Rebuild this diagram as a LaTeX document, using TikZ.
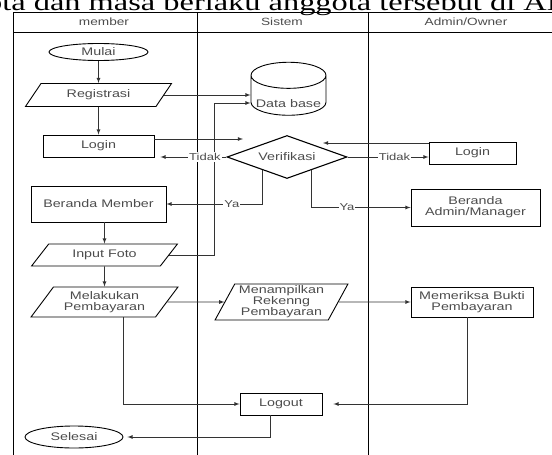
\documentclass[tikz,border=0pt]{standalone}
\usepackage{xcolor}
\usepackage{fontspec}
\setmainfont{Liberation Serif}
\newfontfamily\flowfont[FakeStretch=1.3]{Liberation Sans}
\newfontfamily\pagefont[FakeStretch=1.35]{Liberation Serif}
\usepackage{tikz}
\usetikzlibrary{calc}
\usetikzlibrary{arrows}
\usetikzlibrary{arrows.meta}
\usetikzlibrary{shapes}
\usetikzlibrary{shapes.geometric}
\tikzset{>=latex}
\definecolor{teks}{gray}{0.3}
\definecolor{garis}{gray}{0.2}
\tikzstyle{proses} = [rectangle, draw=black, line width=0.9pt, text=teks, align=center, inner sep=0, font=\flowfont\fontsize{11}{11}\selectfont]
\tikzstyle{data} = [trapezium, trapezium stretches=true, trapezium left angle=50, trapezium right angle=130, draw=black, line width=0.9pt, text=teks, align=center, inner sep=0, font=\flowfont\fontsize{11}{11}\selectfont]
\tikzstyle{terminal} = [ellipse, draw=black, line width=0.9pt, text=teks, inner sep=0, font=\flowfont\fontsize{11}{11}\selectfont]
\tikzstyle{keputusan} = [diamond, aspect=2.8, draw=black, line width=1.1pt, text=teks, inner sep=0, font=\flowfont\fontsize{11}{11}\selectfont]
\tikzstyle{basisdata} = [cylinder, shape border rotate=90, aspect=0.4, draw=black, line width=0.9pt, text=teks, inner sep=0, font=\flowfont\fontsize{11}{11}\selectfont]
\tikzstyle{alur} = [-latex, draw=garis, line width=0.8pt]
\tikzstyle{ket} = [fill=white, inner sep=1, text=teks, font=\flowfont\fontsize{10}{10}\selectfont]
\tikzstyle{lajur} = [draw=black, line width=1pt]

\begin{document}
\begin{tikzpicture}[x=1pt, y=-1pt]
\useasboundingbox (0,0) rectangle (552,455);
\node [anchor=base west, inner sep=0, font=\pagefont\fontsize{24}{24}\selectfont] (judul) at (-14, 10) {ota dan masa berlaku anggota tersebut di AL};
% lajur
\draw [lajur] (13, 455) -- (13, 12) -- (552, 12);
\draw [lajur] (13, 32) -- (552, 32);
\draw [lajur] (197, 12) -- (197, 455);
\draw [lajur] (368, 12) -- (368, 455);
\node [text=teks, font=\flowfont\fontsize{10.5}{11}\selectfont] (hMember) at (104, 22) {member};
\node [text=teks, font=\flowfont\fontsize{10.5}{11}\selectfont] (hSistem) at (282, 22) {Sistem};
\node [text=teks, font=\flowfont\fontsize{10.5}{11}\selectfont] (hAdmin) at (466, 22) {Admin/Owner};
% member
\node [terminal, minimum width=99, minimum height=17] (mulai) at (98.5, 52) {Mulai};
\node [data, minimum width=147, minimum height=23] (registrasi) at (98.5, 95) {Registrasi};
\node [proses, minimum width=111, minimum height=22] (login) at (98.5, 146) {Login};
\node [proses, minimum width=135, minimum height=36] (berandaM) at (98.5, 204) {Beranda Member};
\node [data, trapezium left angle=45, trapezium right angle=135, minimum width=147, minimum height=22] (foto) at (104.5, 255) {Input Foto};
\node [data, minimum width=147, minimum height=30] (bayar) at (104.5, 302) {Melakukan\\Pembayaran};
\node [terminal, minimum width=98, minimum height=22] (selesai) at (74, 437) {Selesai};
% sistem
\node [basisdata, minimum width=75, minimum height=53] (db) at (288.5, 95.5) {\raisebox{-12pt}[0pt][0pt]{Data base}};
\node [keputusan, minimum width=120, minimum height=43] (verif) at (287, 157) {Verifikasi};
\node [data, trapezium left angle=61, trapezium right angle=119, minimum width=133, minimum height=36] (rekening) at (281.5, 302) {Menampilkan\\Rekenng\\Pembayaran};
\node [proses, minimum width=82, minimum height=22] (logout) at (281, 404) {Logout};
% admin
\node [proses, minimum width=87, minimum height=22] (loginA) at (472.5, 153) {Login};
\node [proses, minimum width=129, minimum height=37] (berandaA) at (475.5, 207.5) {Beranda\\Admin/Manager};
\node [proses, minimum width=122, minimum height=30] (periksa) at (472, 302) {Memeriksa Bukti\\Pembayaran};
% titik bantu
\coordinate (tekukFoto) at (214, 103);
\coordinate (keVerif) at (243, 139);
\coordinate (dariAdmin) at (323, 143);
\coordinate (turunPeriksa) at (467, 404);
\coordinate (turunBayar) at (123, 404);
\coordinate (turunLogout) at (270, 437);
% alur
\draw [alur] (mulai) to (registrasi);
\draw [alur] (registrasi) to (login);
\draw [alur] (registrasi.east) -- (registrasi.east -| db.west);
\draw [alur] (foto.east) -| (tekukFoto) -- (tekukFoto -| db.west);
\draw [alur] (login.east |- keVerif) -- (keVerif);
\draw [alur, shorten >=6pt] (verif.west) -- (login.east |- verif.west) node [ket, pos=0.3] {Tidak};
\draw [alur] (loginA.west |- dariAdmin) -- (dariAdmin);
\draw [alur] (verif.east) -- (loginA.west |- verif.east) node [ket, pos=0.58] {Tidak};
\draw [alur] ($(verif.west)!0.6!(verif.south)$) |- (berandaM.east) node [ket, pos=0.66] {Ya};
\draw [alur] ($(verif.south)!0.4!(verif.east)$) |- (berandaA.west) node [ket, pos=0.68] {Ya};
\draw [alur] (foto.north |- berandaM.south) -- (foto.north);
\draw [alur] (foto) to (bayar);
\draw [alur] (bayar.east) -- (rekening.west);
\draw [alur] (rekening.east) -- (periksa.west);
\draw [alur, shorten >=11pt] (periksa.south -| turunPeriksa) |- (logout.east);
\draw [alur] (bayar.south -| turunBayar) |- (logout.west);
\draw [alur, shorten >=4pt] (logout.south -| turunLogout) |- (selesai.east);
\end{tikzpicture}
\end{document}
